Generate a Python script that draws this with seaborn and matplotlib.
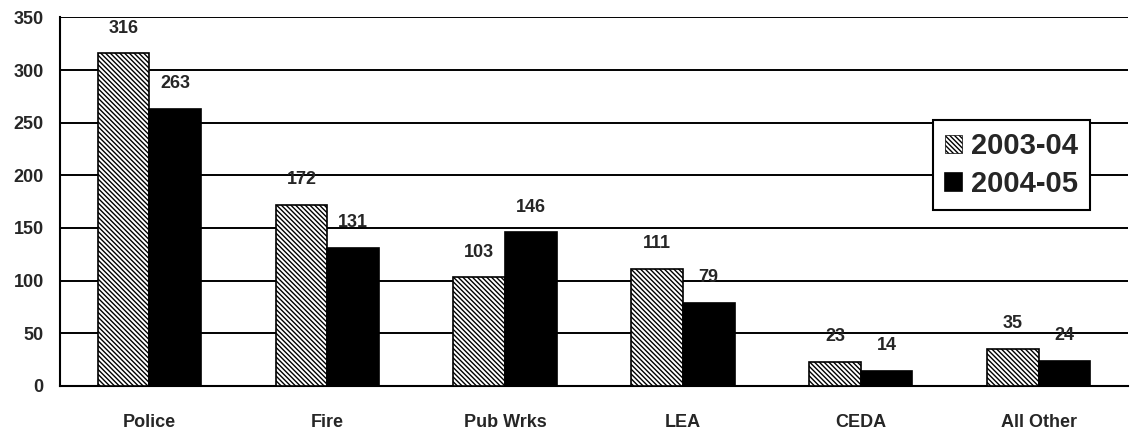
import pandas as pd
import numpy as np
import matplotlib.pyplot as plt
import seaborn as sns

# データ
categories = ['Police', 'Fire', 'Pub Wrks', 'LEA', 'CEDA', 'All Other']
years = ['2003-04', '2004-05']
vals_2003 = [316, 172, 103, 111, 23, 35]
vals_2004 = [263, 131, 146, 79, 14, 24]

df = pd.DataFrame({
    'cat': categories * 2,
    'year': [years[0]] * len(categories) + [years[1]] * len(categories),
    'val': vals_2003 + vals_2004,
})

sns.set_style('white')
plt.rcParams['font.family'] = ['Liberation Sans', 'DejaVu Sans']
plt.rcParams['hatch.linewidth'] = 1.0

HATCH = '\\' * 7

fig, ax = plt.subplots(figsize=(11.39, 4.37), dpi=100)
sns.barplot(data=df, x='cat', y='val', hue='year', order=categories,
            hue_order=years, palette=['white', 'black'], width=0.58,
            edgecolor='black', linewidth=1.2, saturation=1, ax=ax, zorder=3)

# 2003-04 はハッチング
for bar in ax.containers[0]:
    bar.set_hatch(HATCH)
for c in ax.containers:
    ax.bar_label(c, padding=12, fontsize=13, fontweight='bold')

ax.set_ylim(0, 350)
ax.set_yticks(range(0, 351, 50))
ax.set_xlim(-0.5, 5.5)
ax.yaxis.grid(True, color='black', linewidth=1.4, zorder=0)
ax.set_axisbelow(True)
for s in ['top', 'right']:
    ax.spines[s].set_visible(False)
for s in ['left', 'bottom']:
    ax.spines[s].set_color('black')
    ax.spines[s].set_linewidth(1.5)
ax.tick_params(axis='both', length=0, labelsize=13, pad=12)
ax.tick_params(axis='x', pad=20)
for lab in ax.get_xticklabels() + ax.get_yticklabels():
    lab.set_fontweight('bold')
ax.set_xlabel('')
ax.set_ylabel('')

leg = ax.legend(loc='upper right', bbox_to_anchor=(0.978, 0.76), frameon=True,
                fancybox=False, edgecolor='black', framealpha=1,
                prop={'weight': 'bold', 'size': 21}, handlelength=0.6,
                handleheight=0.6, handletextpad=0.3, borderpad=0.4,
                labelspacing=0.35)
leg.get_frame().set_linewidth(1.5)
leg.legend_handles[0].set_hatch(HATCH)
leg.legend_handles[0].set_linewidth(0.5)

plt.subplots_adjust(left=0.053, right=0.99, top=0.96, bottom=0.117)
plt.savefig('out.png', dpi=100)
